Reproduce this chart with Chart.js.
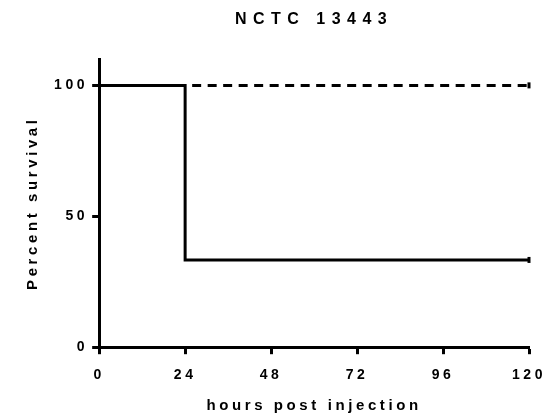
<!DOCTYPE html>
<html>
<head>
<meta charset="utf-8">
<script src="https://cdn.jsdelivr.net/npm/chart.js@4.4.1/dist/chart.umd.min.js"></script>
<style>
  html, body { margin: 0; padding: 0; background: #fff; }
  #wrap { width: 556px; height: 417px; }
</style>
</head>
<body>
<div id="wrap"><canvas id="survivalChart"></canvas></div>
<script>
// survival data
const hours = [0, 24, 120];
const infected = [100, 33.33, 33.33];
const controlHours = [0, 120];
const control = [100, 100];
const xTicks = [0, 24, 48, 72, 96, 120];
const yTicks = [0, 50, 100];

const toPoints = (xs, ys) => xs.map((x, i) => ({ x: x, y: ys[i] }));

// canvas has no css letter-spacing, so set it on the context
const spacing = {
    id: 'spacing',
    beforeLayout(chart) {
        chart.ctx.letterSpacing = '3.6px';
    },
    beforeDraw(chart) {
        chart.ctx.letterSpacing = '3.6px';
        const tb = chart.titleBlock;
        if (tb && !tb._wrapped) {
            const orig = tb.draw.bind(tb);
            tb.draw = function() {
                const ctx = chart.ctx;
                ctx.save();
                ctx.letterSpacing = '6.5px';
                orig();
                ctx.restore();
            };
            tb._wrapped = true;
        }
    }
};

const ctx = document.getElementById('survivalChart').getContext('2d');
new Chart(ctx, {
    type: 'line',
    data: {
        datasets: [
            {
                label: 'infected',
                data: toPoints(hours, infected),
                stepped: 'before',
                borderColor: '#000',
                borderWidth: 3,
                fill: false,
                pointStyle: 'line',
                rotation: 90,
                pointRadius: [0, 0, 3],
                pointBorderWidth: 3,
                pointBorderColor: '#000',
                clip: false
            },
            {
                label: 'control',
                data: toPoints(controlHours, control),
                borderColor: '#000',
                borderWidth: 3,
                borderDash: [9, 6.5],
                fill: false,
                pointStyle: 'line',
                rotation: 90,
                pointRadius: [0, 3],
                pointBorderWidth: 3,
                pointBorderColor: '#000',
                clip: false
            }
        ]
    },
    options: {
        responsive: true,
        maintainAspectRatio: false,
        animation: false,
        layout: { padding: { left: 24, right: 0, top: 10, bottom: 2 } },
        plugins: {
            legend: { display: false },
            tooltip: { enabled: false },
            title: {
                display: true,
                fullSize: false,
                text: 'NCTC 13443',
                color: '#000',
                font: { family: 'Liberation Sans', size: 16, weight: 'bold' },
                padding: { top: 0, bottom: 30 }
            }
        },
        scales: {
            x: {
                type: 'linear',
                min: 0,
                max: 120,
                afterBuildTicks: (axis) => { axis.ticks = xTicks.map(v => ({ value: v })); },
                // keep the plot's right edge where the reference has it
                afterFit: (axis) => { axis.paddingRight = 27; },
                grid: {
                    drawOnChartArea: false,
                    drawTicks: true,
                    tickLength: 7,
                    tickWidth: 3,
                    color: '#000'
                },
                border: { display: true, color: '#000', width: 3 },
                ticks: {
                    color: '#000',
                    padding: 13,
                    maxRotation: 0,
                    font: { family: 'Liberation Sans', size: 14, weight: 'bold' }
                },
                title: {
                    display: true,
                    text: 'hours post injection',
                    color: '#000',
                    font: { family: 'Liberation Sans', size: 15, weight: 'bold' },
                    padding: { top: 0, bottom: 0 }
                }
            },
            y: {
                type: 'linear',
                min: 0,
                max: 110,
                afterBuildTicks: (axis) => { axis.ticks = yTicks.map(v => ({ value: v })); },
                grid: {
                    drawOnChartArea: false,
                    drawTicks: true,
                    tickLength: 7,
                    tickWidth: 3,
                    color: '#000'
                },
                border: { display: true, color: '#000', width: 3 },
                ticks: {
                    color: '#000',
                    padding: 4,
                    font: { family: 'Liberation Sans', size: 14, weight: 'bold' }
                },
                title: {
                    display: true,
                    text: 'Percent survival',
                    color: '#000',
                    font: { family: 'Liberation Sans', size: 15, weight: 'bold' },
                    padding: { top: 0, bottom: 8 }
                }
            }
        }
    },
    plugins: [spacing]
});
</script>
</body>
</html>
